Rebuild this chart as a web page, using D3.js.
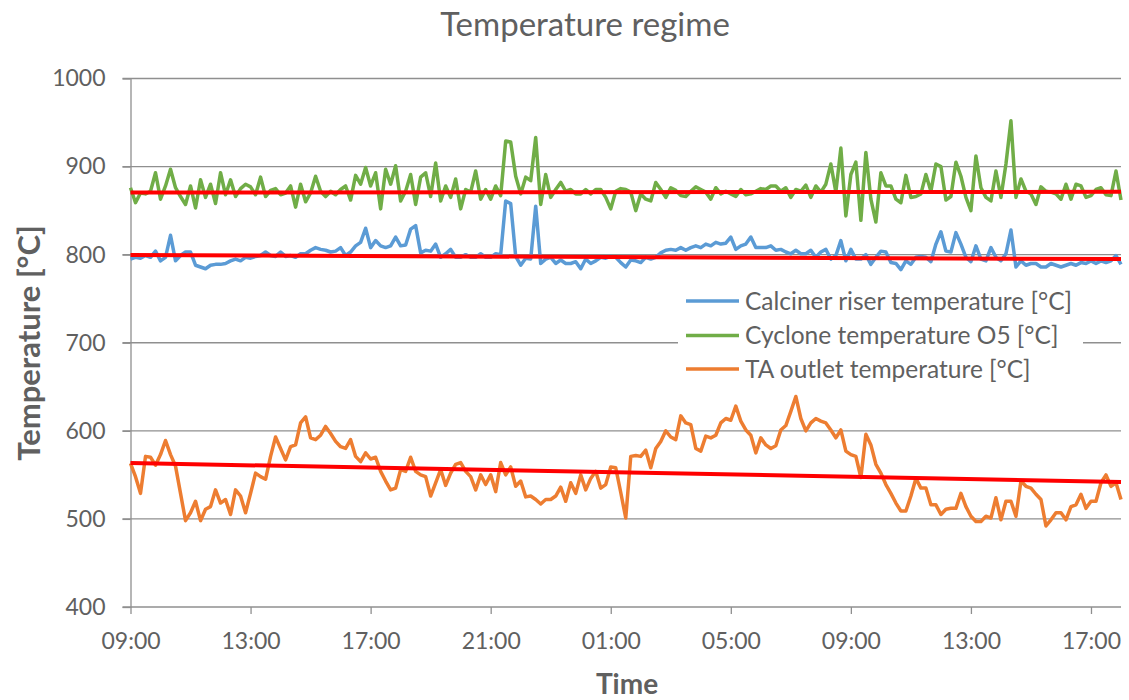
<!DOCTYPE html>
<html><head><meta charset="utf-8">
<script src="https://cdn.jsdelivr.net/npm/d3@7"></script>
<style>
body{margin:0;background:#fff;}
svg{display:block;font-family:Lato,"Open Sans",sans-serif;}
</style>
</head><body>
<svg id="chart" width="1129" height="700"></svg>
<script>
// ---- data (10-minute samples starting at 09:00) ----
const stepMinutes = 10;
const xTickHours = [0,4,8,12,16,20,24,28,32];
const xTickLabels = ["09:00","13:00","17:00","21:00","01:00","05:00","09:00","13:00","17:00"];
const yTicks = [400,500,600,700,800,900,1000];
const seriesNames = ["Calciner riser temperature [°C]","Cyclone temperature O5 [°C]","TA outlet temperature [°C]"];
const seriesColors = ["#5B9BD5","#70AD47","#ED7D31"];

const calcinerRiser = [
795,797,796,799,797,804,793,797,822,793,
799,803,803,788,786,784,788,789,789,790,
793,795,793,797,796,798,799,803,799,798,
803,798,799,797,801,801,805,808,806,805,
803,804,808,799,803,810,814,830,808,816,
810,808,810,820,810,811,829,833,802,805,
804,812,797,801,806,797,797,800,797,797,
801,797,797,801,800,861,858,798,788,796,
795,855,790,795,797,790,794,790,790,792,
784,795,790,793,797,796,798,797,791,786,
794,793,791,797,795,797,802,805,806,805,
808,805,808,810,808,812,810,814,812,813,
820,806,810,812,820,808,808,808,810,805,
806,803,801,805,801,801,805,797,803,806,
795,799,816,793,806,795,795,800,789,797,
804,803,791,790,783,793,789,797,798,797,
792,812,826,804,803,825,812,797,792,810,
795,793,808,797,793,801,828,786,793,788,
790,790,786,786,790,788,786,788,790,788,
791,790,793,790,793,791,793,799,789];

const cycloneO5 = [
876,859,870,869,872,893,863,878,897,876,
866,857,878,853,885,865,880,858,893,868,
885,866,875,880,877,868,888,866,873,875,
868,870,878,854,880,860,870,889,872,866,
872,868,874,878,862,890,880,899,878,893,
852,897,880,901,861,872,891,857,888,893,
866,904,861,878,865,886,852,874,871,895,
863,874,863,878,867,929,928,889,869,888,
884,933,857,891,865,874,882,872,874,869,
869,874,869,874,874,865,852,872,875,874,
871,850,869,863,861,882,874,865,876,873,
867,866,872,877,874,871,863,876,869,872,
869,866,874,868,869,872,875,874,878,878,
872,876,865,874,872,879,865,878,871,880,
903,871,921,844,891,905,839,916,863,837,
893,878,878,863,859,890,865,866,869,891,
872,903,900,862,866,905,889,865,850,912,
876,865,861,895,865,903,952,865,886,872,
869,857,877,872,871,869,863,880,863,880,
878,865,867,874,876,868,867,895,862];

const taOutlet = [
563,548,529,571,570,561,573,589,573,560,
529,498,507,520,498,511,514,533,518,522,
505,533,526,507,529,552,548,545,571,593,
580,567,582,584,609,616,592,590,595,605,
597,588,582,580,590,571,565,575,568,570,
554,543,533,535,556,554,570,554,550,548,
526,541,556,538,552,562,564,554,548,533,
550,539,550,531,564,550,559,537,543,525,
526,522,517,522,522,526,536,520,541,529,
550,533,546,554,535,539,559,558,530,501,
571,572,571,578,558,580,588,600,593,590,
617,609,607,580,577,594,592,595,609,614,
612,628,611,601,595,575,592,584,580,583,
601,606,622,639,614,600,609,614,611,609,
601,592,601,577,573,571,547,596,584,562,
552,539,529,518,509,509,526,546,535,535,
516,516,505,511,512,512,529,514,503,497,
497,503,501,524,499,520,520,503,543,537,
535,528,522,492,499,507,507,499,514,516,
528,512,520,520,541,550,537,541,522];

// linear trend lines: [value at start, value at end]
const trendCalciner = [799.5, 795];
const trendCyclone = [870.5, 871.3];
const trendTA = [563.5, 542];

// ---- drawing ----
const svg = d3.select("#chart");
const plotL = 130.5, plotR = 1121, plotT = 78.5, plotB = 607;
const totalHours = (taOutlet.length - 1) * stepMinutes / 60;
const x = d3.scaleLinear().domain([0, totalHours]).range([plotL, plotR]);
const y = d3.scaleLinear().domain([400, 1000]).range([plotB, plotT]);
const textColor = "#606060", gridColor = "#8f8f8f";

// gridlines
svg.append("g").selectAll("line").data(yTicks.filter(d => d > 400)).join("line")
  .attr("x1", plotL - 8).attr("x2", plotR)
  .attr("y1", d => y(d)).attr("y2", d => y(d))
  .attr("stroke", gridColor).attr("stroke-width", 1.3);

// y axis
const yAxis = svg.append("g").attr("transform", `translate(${plotL},0)`)
  .call(d3.axisLeft(y).tickValues(yTicks).tickFormat(d3.format("d"))
    .tickSize(8).tickPadding(17).tickSizeOuter(0));
yAxis.select(".domain").attr("stroke", gridColor).attr("stroke-width", 1.3);
yAxis.selectAll(".tick line").attr("stroke", gridColor).attr("stroke-width", 1.3);
yAxis.selectAll("text").attr("fill", textColor).style("font-size", "23px").style("font-family", "Lato");

// x axis
const xAxis = svg.append("g").attr("transform", `translate(0,${plotB})`)
  .call(d3.axisBottom(x).tickValues(xTickHours).tickFormat((d, i) => xTickLabels[i])
    .tickSize(7).tickPadding(18.5).tickSizeOuter(0));
xAxis.select(".domain").attr("stroke", gridColor).attr("stroke-width", 1.3)
  .attr("d", `M${plotL - 8},0H${plotR}`);
xAxis.selectAll(".tick line").attr("stroke", gridColor).attr("stroke-width", 1.3);
xAxis.selectAll("text").attr("fill", textColor).style("font-size", "23px").style("font-family", "Lato");

// series lines
const allSeries = [calcinerRiser, cycloneO5, taOutlet];
const line = d3.line().x((d, i) => x(i * stepMinutes / 60)).y(d => y(d)).curve(d3.curveLinear);
allSeries.forEach((s, k) => {
  svg.append("path").datum(s).attr("d", line)
    .attr("fill", "none").attr("stroke", seriesColors[k])
    .attr("stroke-width", 3.5).attr("stroke-linejoin", "round");
});

// legend (white background over gridline)
const lg = svg.append("g");
lg.append("rect").attr("x", 678).attr("y", 284).attr("width", 405).attr("height", 102).attr("fill", "#fff");
const rowsY = [301, 335.5, 369];
seriesNames.forEach((name, k) => {
  lg.append("line").attr("x1", 686).attr("x2", 739).attr("y1", rowsY[k]).attr("y2", rowsY[k])
    .attr("stroke", seriesColors[k]).attr("stroke-width", 3.5);
  lg.append("text").attr("x", 745).attr("y", rowsY[k]).attr("dy", "0.36em")
    .attr("fill", textColor).style("font-size", "24.5px").text(name);
});

// trend lines
[trendCalciner, trendCyclone, trendTA].forEach(t => {
  svg.append("line")
    .attr("x1", x(0)).attr("x2", x(totalHours))
    .attr("y1", y(t[0])).attr("y2", y(t[1]))
    .attr("stroke", "#FF0000").attr("stroke-width", 4);
});

// titles
svg.append("text").attr("x", 585).attr("y", 36).attr("text-anchor", "middle")
  .attr("fill", textColor).style("font-size", "33px").text("Temperature regime");
svg.append("text").attr("transform", "translate(40,343) rotate(-90)").attr("text-anchor", "middle")
  .attr("fill", textColor).style("font-size", "31px").style("font-weight", "bold").text("Temperature [°C]");
svg.append("text").attr("x", 627).attr("y", 694).attr("text-anchor", "middle")
  .attr("fill", textColor).style("font-size", "28px").style("font-weight", "bold").text("Time");
</script>
</body></html>
